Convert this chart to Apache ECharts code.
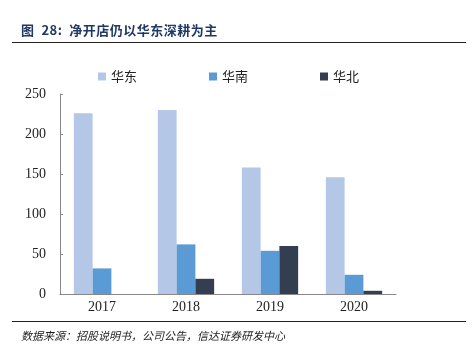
<!DOCTYPE html>
<html><head><meta charset="utf-8">
<script src="https://cdn.jsdelivr.net/npm/echarts@6/dist/echarts.min.js"></script>
<style>
html,body{margin:0;padding:0;background:#fff;}
#wrap{position:relative;width:474px;height:356px;overflow:hidden;}
#title{position:absolute;left:21px;top:20px;font-family:"Noto Sans CJK SC";font-weight:bold;font-size:13px;color:#1f3864;letter-spacing:0.5px;}
#l1{position:absolute;left:12px;top:42px;width:454px;height:1px;background:#222;}
#l2{position:absolute;left:12px;top:321px;width:454px;height:1px;background:#222;}
#foot{position:absolute;left:21px;top:327px;font-family:"Noto Sans CJK SC";font-style:italic;font-size:11px;color:#222;}
#chart{position:absolute;left:0;top:0;width:474px;height:356px;}
</style></head><body>
<div id="wrap">
<div id="chart"></div>
<div id="title">图&nbsp; 28:&nbsp; 净开店仍以华东深耕为主</div>
<div id="l1"></div>
<div id="l2"></div>
<div id="foot">数据来源：招股说明书，公司公告，信达证券研发中心</div>
</div>
<script>
const categories = ['2017', '2018', '2019', '2020'];
const eastChina = [226, 230, 158, 146];
const southChina = [32, 62, 54, 24];
const northChina = [0, 19, 60, 4];
const seriesNames = ['华东', '华南', '华北'];
const yTicks = [0, 50, 100, 150, 200, 250];

const chart = echarts.init(document.getElementById('chart'));
const colors = ['#b4c7e7', '#5b9bd5', '#333f50'];
const data = [eastChina, southChina, northChina];
chart.setOption({
  animation: false,
  color: colors,
  legend: {
    top: 65, left: 93, itemGap: 72, itemWidth: 8, itemHeight: 8,
    icon: 'rect',
    textStyle: { fontFamily: 'Noto Sans CJK SC', fontSize: 13, color: '#222' },
    data: seriesNames
  },
  grid: { left: 60, right: 78, top: 94, bottom: 62 },
  xAxis: {
    type: 'category', data: categories,
    axisLine: { lineStyle: { color: '#888' } },
    axisTick: { inside: true, length: 4, lineStyle: { color: '#888' } },
    axisLabel: { fontFamily: 'Liberation Serif', fontSize: 14, color: '#222', margin: 6 }
  },
  yAxis: {
    type: 'value', min: yTicks[0], max: yTicks[yTicks.length - 1], interval: 50,
    splitLine: { show: false },
    axisLine: { show: true, lineStyle: { color: '#888' } },
    axisTick: { show: true, inside: true, length: 3, lineStyle: { color: '#888' } },
    axisLabel: { fontFamily: 'Liberation Serif', fontSize: 14, color: '#222', margin: 14 }
  },
  series: seriesNames.map((n, i) => ({
    name: n, type: 'bar', data: data[i],
    barGap: '0%', barCategoryGap: '33%'
  }))
});
</script>
</body></html>
